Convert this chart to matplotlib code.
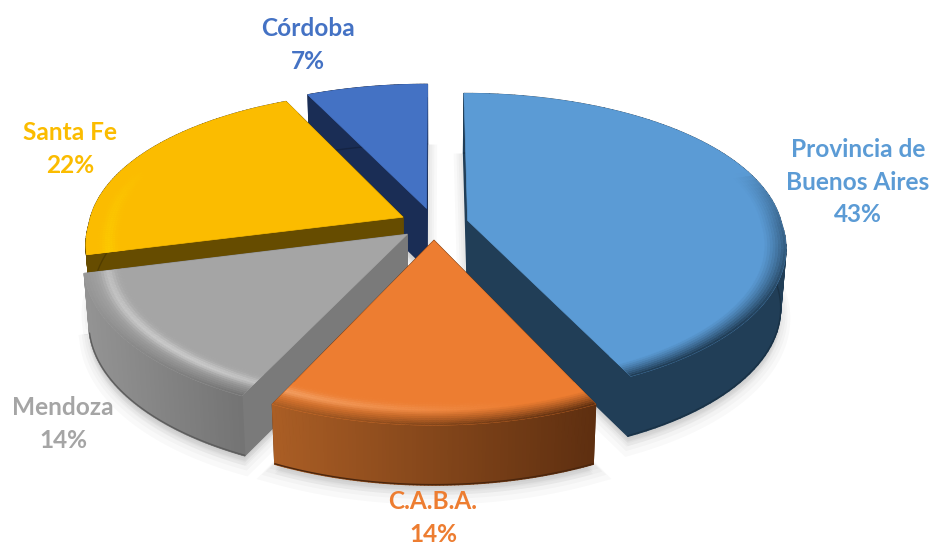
import numpy as np
import matplotlib
matplotlib.use("Agg")
import matplotlib.pyplot as plt
from matplotlib.collections import PolyCollection
from matplotlib.colors import to_rgb

categories = ["Provincia de\nBuenos Aires", "C.A.B.A.", "Mendoza", "Santa Fe", "Córdoba"]
shares = [43, 14, 14, 22, 7]

top_colors = ["#5B9BD5", "#ED7D31", "#A5A5A5", "#FBBC00", "#4472C4"]
side_left = ["#213E57", "#AB5E25", "#949494", "#664C00", "#1A2D55"]
side_right = ["#213E57", "#5E2F10", "#747474", "#664C00", "#1A2D55"]
wall_colors = ["#213E57", "#5E2F10", "#7A7A7A", "#664C00", "#1A2D55"]
rim_dark = [1.0, 1.0, 1.0, 0.0, 0.0]
rim_glow = ["#FFFFFF", "#FFE0C0", "#FFFFFF", "#FFE800", "#FFFFFF"]
label_colors = ["#5B9BD5", "#ED7D31", "#A5A5A5", "#FBBC00", "#4472C4"]
label_xy = [(858, 182), (433, 518), (63, 424), (70, 149), (308, 45)]
draw_order = [4, 0, 3, 2, 1]

# projection of the pie plane to pixels, the near half is stretched more
CX, CY = 434, 224
RX, RY = 314, 147
K_FRONT = 0.17
K_BACK_X = 0.12
K_BACK_Y = 0.15
DEPTH = 60
EXPLODE = 0.11


def project(u, v):
    u, v = np.asarray(u, float), np.asarray(v, float)
    wx = 1 + np.where(v < 0, K_FRONT, K_BACK_X) * v
    wy = 1 + np.where(v < 0, K_FRONT, K_BACK_Y) * v
    return CX + RX * u / wx, CY - RY * v / wy


def blend(a, b, t):
    a, b = np.array(to_rgb(a)), np.array(to_rgb(b))
    return tuple(a + (b - a) * t)


def wedge_outline(a0, a1, ox, oy, r=1.0, n=90):
    ang = np.linspace(a0, a1, n)
    return ox + r * np.sin(ang), oy + r * np.cos(ang), ang


def lower(x, y):
    return CX + (x - CX) * 0.985, y + DEPTH


def draw_wedge(ax, i, a0, a1, z):
    mid = (a0 + a1) / 2
    ox, oy = EXPLODE * np.sin(mid), EXPLODE * np.cos(mid)
    u, v, ang = wedge_outline(a0, a1, ox, oy)
    x, y = project(u, v)
    tx, ty = project(ox, oy)

    # soft shadow under the front of the slice
    lx, ly = lower(x, y)
    ltx, lty = lower(tx, ty)
    for s in [14, 10, 7, 4]:
        ax.fill(np.r_[ltx, lx], np.r_[lty, ly] + s * 0.7, color="#000000", alpha=0.025,
                lw=s, zorder=0.5)

    # side walls, sorted back to front
    quads, cols, keys = [], [], []
    span = max(x.max() - x.min(), 1)
    shade = (x - x.min()) / span
    for j in range(len(x) - 1):
        bx0, by0 = lower(x[j], y[j])
        bx1, by1 = lower(x[j + 1], y[j + 1])
        quads.append([(x[j], y[j]), (x[j + 1], y[j + 1]), (bx1, by1), (bx0, by0)])
        cols.append(blend(side_left[i], side_right[i], shade[j]))
        keys.append(y[j])
    for px, py in [(x[0], y[0]), (x[-1], y[-1])]:
        bx0, by0 = lower(tx, ty)
        bx1, by1 = lower(px, py)
        quads.append([(tx, ty), (px, py), (bx1, by1), (bx0, by0)])
        cols.append(to_rgb(wall_colors[i]))
        keys.append((ty + py) / 2 - 40)
    order = np.argsort(keys)
    ax.add_collection(PolyCollection([quads[k] for k in order],
                                     facecolors=[cols[k] for k in order],
                                     edgecolors=[cols[k] for k in order],
                                     linewidths=1.0, zorder=z))

    # darker line along the bottom of the rim
    ax.plot(lx, ly - 0.5, color=blend(side_right[i], "#000000", 0.2), lw=1.0,
            solid_capstyle="round", zorder=z + 0.05)

    # top face
    ax.fill(np.r_[tx, x], np.r_[ty, y], color=top_colors[i], lw=0.5, zorder=z + 0.1)

    # bevel along the rim: dark at the edge, a highlight just inside on the left
    radii = np.linspace(1.0, 0.885, 15)
    glow = blend(top_colors[i], rim_glow[i], 0.4)
    quads, cols = [], []
    for b in range(len(radii) - 1):
        u0, v0, _ = wedge_outline(a0, a1, ox, oy, radii[b])
        u1, v1, _ = wedge_outline(a0, a1, ox, oy, radii[b + 1])
        x0, y0 = project(u0, v0)
        x1, y1 = project(u1, v1)
        s = b / (len(radii) - 2)
        dark = np.clip(1 - s / 0.62, 0, 1) ** 1.2
        light = np.exp(-((s - 0.62) / 0.2) ** 2)
        for j in range(len(x0) - 1):
            facing = np.clip(-np.cos(ang[j]) + 0.35, 0, 1) ** 0.6
            left = np.clip(0.3 - 1.2 * np.sin(ang[j]), 0, 1)
            side = blend(side_left[i], side_right[i], shade[j])
            c = blend(top_colors[i], glow, light * left * facing)
            c = tuple(np.array(c) + (np.array(side) - np.array(c)) * dark * facing * rim_dark[i])
            quads.append([(x0[j], y0[j]), (x0[j + 1], y0[j + 1]),
                          (x1[j + 1], y1[j + 1]), (x1[j], y1[j])])
            cols.append(c)
    ax.add_collection(PolyCollection(quads, facecolors=cols, edgecolors=cols,
                                     linewidths=0.3, zorder=z + 0.2))


fig = plt.figure(figsize=(9.31, 5.44), dpi=100)
ax = fig.add_axes([0, 0, 1, 1])
ax.set_xlim(0, 931)
ax.set_ylim(544, 0)
ax.axis("off")

fracs = np.array(shares) / sum(shares)
edges = np.r_[0, np.cumsum(fracs)] * 2 * np.pi
for z, i in enumerate(draw_order):
    draw_wedge(ax, i, edges[i], edges[i + 1], z + 1)

for name, share, col, (lx, ly) in zip(categories, shares, label_colors, label_xy):
    ax.text(lx, ly, f"{name}\n{share}%", color=col, ha="center", va="center",
            fontsize=17.6, fontweight="bold", family="Lato", linespacing=1.52,
            zorder=20, clip_on=False)

fig.savefig("out.png", dpi=100)
